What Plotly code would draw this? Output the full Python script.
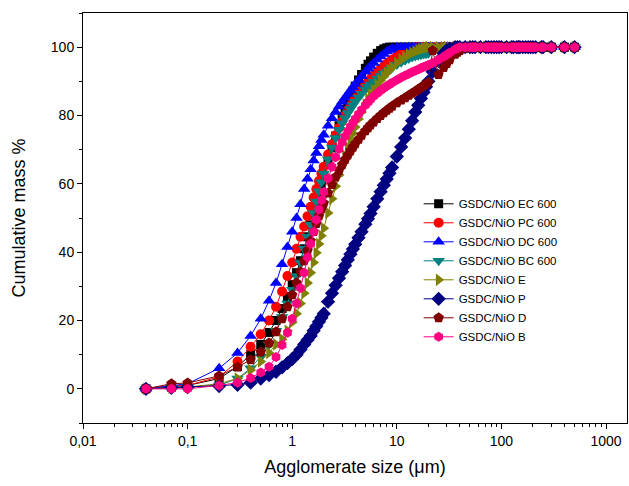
import plotly.graph_objects as go

# Particle size classes (µm)
sizes = [0.04, 0.07, 0.1, 0.2, 0.3, 0.4, 0.5, 0.6, 0.7, 0.8, 0.9, 1.0,
         1.1, 1.2, 1.3, 1.4, 1.5, 1.6, 1.7, 1.8, 1.9, 2.0,
         2.2, 2.4, 2.6, 2.8, 3.0, 3.2, 3.4, 3.6, 3.8, 4.0,
         4.3, 4.6, 5.0, 5.3, 5.6, 6.0, 6.5, 7.0, 7.5, 8.0, 8.5, 9.0,
         10, 11, 12, 13, 14, 15, 16, 17, 18, 19, 20,
         22, 25, 28, 30, 32, 36, 38, 40, 45, 50,
         53, 56, 63, 71, 75, 80, 85, 90, 95, 100,
         112, 125, 130, 140, 145, 150, 160, 170, 180, 190, 200,
         212, 242, 250, 300, 400, 500]

ec600 = [0, 0.5, 1, 3, 6.5, 10, 13, 16.5, 20, 23.5, 27, 30.5,
         34, 37.5, 41, 44.5, 48, 51, 54, 57, 59.5, 62,
         66.5, 70.5, 74, 77, 79.6, 81.8, 83.8, 85.6, 87.2, 88.6,
         90.4, 92, 93.8, 95, 96, 97.1, 98.2, 99, 99.5, 99.8, 100, 100,
         100, 100, 100, 100, 100, 100, 100, 100, 100, 100, 100,
         100, 100, 100, 100, 100, 100, 100, 100, 100, 100,
         100, 100, 100, 100, 100, 100, 100, 100, 100, 100,
         100, 100, 100, 100, 100, 100, 100, 100, 100, 100, 100,
         100, 100, 100, 100, 100, 100]

pc600 = [0, 1, 1, 3.5, 8, 12.3, 16, 20, 24, 28.5, 33, 37,
         41, 44.5, 47.5, 50.5, 53.3, 56, 58.5, 60.8, 63, 65,
         68.6, 71.6, 74.2, 76.4, 78.3, 80, 81.5, 82.8, 84, 85,
         86.4, 87.6, 89, 89.9, 90.7, 91.7, 92.7, 93.6, 94.4, 95.1, 95.7, 96.3,
         97.3, 98.1, 98.7, 99.2, 99.6, 99.9, 100, 100, 100, 100, 100,
         100, 100, 100, 100, 100, 100, 100, 100, 100, 100,
         100, 100, 100, 100, 100, 100, 100, 100, 100, 100,
         100, 100, 100, 100, 100, 100, 100, 100, 100, 100, 100,
         100, 100, 100, 100, 100, 100]

dc600 = [0, 1, 1.5, 6, 10.5, 15.5, 20.5, 25.8, 31, 36.5, 41.5, 46,
         50, 54, 58.5, 61.5, 64.3, 66.8, 69, 71, 72.8, 74.4,
         77, 79.2, 81, 82.6, 84, 85.2, 86.3, 87.3, 88.3, 89.2,
         90.4, 91.5, 92.8, 93.7, 94.5, 95.4, 96.4, 97.3, 98, 98.7, 99.2, 99.6,
         100, 100, 100, 100, 100, 100, 100, 100, 100, 100, 100,
         100, 100, 100, 100, 100, 100, 100, 100, 100, 100,
         100, 100, 100, 100, 100, 100, 100, 100, 100, 100,
         100, 100, 100, 100, 100, 100, 100, 100, 100, 100, 100,
         100, 100, 100, 100, 100, 100]

bc600 = [0, 0.3, 0.5, 1, 3, 6, 9.5, 13, 17, 21, 25, 29,
         33, 37, 41, 44.5, 48, 51.5, 54.8, 57.8, 60.5, 63,
         67.2, 70.6, 73.4, 75.8, 77.7, 79.3, 80.7, 81.9, 83, 84,
         85.3, 86.4, 87.6, 88.4, 89.1, 89.9, 90.8, 91.6, 92.3, 92.9, 93.5, 94,
         94.9, 95.6, 96.2, 96.7, 97.1, 97.4, 97.6, 97.8, 98, 98.1, 98.2,
         100, 100, 100, 100, 100, 100, 100, 100, 100, 100,
         100, 100, 100, 100, 100, 100, 100, 100, 100, 100,
         100, 100, 100, 100, 100, 100, 100, 100, 100, 100, 100,
         100, 100, 100, 100, 100, 100]

e_ = [0, 0.3, 0.5, 1.5, 3, 5.5, 8, 10.5, 13, 14.5, 17, 19.5,
      22, 25, 28, 31, 34, 37, 39.8, 42.4, 44.8, 47,
      51.5, 55.6, 59.3, 62.6, 65.5, 68.2, 70.6, 72.8, 74.8, 76.6,
      79, 81, 83.3, 84.8, 86.1, 87.5, 89, 90.3, 91.4, 92.4, 93.3, 94.1,
      95.4, 96.4, 97.2, 97.9, 98.4, 98.8, 99.2, 99.5, 99.7, 99.9, 100,
      100, 100, 100, 100, 100, 100, 100, 100, 100, 100,
      100, 100, 100, 100, 100, 100, 100, 100, 100, 100,
      100, 100, 100, 100, 100, 100, 100, 100, 100, 100, 100,
      100, 100, 100, 100, 100, 100]

p_ = [0, 0.3, 0.5, 0.8, 1.2, 1.8, 3, 4, 5, 6.3, 7.5, 8.7,
      10, 11.5, 13, 14.3, 15.5, 17, 18.3, 19.6, 20.8, 22,
      25.5, 28, 30.3, 32.4, 34.3, 36.1, 37.8, 39.4, 40.9, 42.3,
      44.2, 46, 48.2, 49.8, 51.3, 53.3, 55.6, 57.7, 59.6, 61.4, 63.1, 64.8,
      68, 70.8, 73.4, 76, 78.5, 81, 83, 85, 86.8, 88.4, 90,
      92.8, 96, 98.2, 99.1, 99.6, 100, 100, 100, 100, 100,
      100, 100, 100, 100, 100, 100, 100, 100, 100, 100,
      100, 100, 100, 100, 100, 100, 100, 100, 100, 100, 100,
      100, 100, 100, 100, 100, 100]

d_ = [0, 1.5, 1.7, 3.8, 6.4, 8.5, 10.8, 13.4, 16.7, 20.5, 24, 27.5,
      31, 34.3, 37.5, 40.5, 43.3, 46, 48.4, 50.6, 52.6, 54.3,
      57.3, 59.8, 62, 63.9, 65.6, 67.1, 68.4, 69.6, 70.7, 71.7,
      73, 74.2, 75.5, 76.4, 77.2, 78.1, 79.1, 80, 80.8, 81.5, 82.1, 82.7,
      83.7, 84.5, 85.2, 85.9, 86.5, 87.1, 87.7, 88.2, 88.7, 89.2, 89.7,
      99, 92, 94, 95.2, 96.3, 97.9, 98.5, 99, 99.7, 100,
      100, 100, 100, 100, 100, 100, 100, 100, 100, 100,
      100, 100, 100, 100, 100, 100, 100, 100, 100, 100, 100,
      100, 100, 100, 100, 100, 100]

b_ = [0, 0, 0, 1, 1.8, 3.2, 4.8, 6.5, 9.3, 12.8, 16.4, 20.5,
      25, 29.5, 34, 38.5, 42.5, 46, 49.5, 52.5, 55.2, 57.6,
      61.6, 65, 67.8, 70.2, 72.2, 73.9, 75.4, 76.7, 77.9, 79,
      80.4, 81.6, 83, 83.9, 84.7, 85.6, 86.5, 87.3, 88, 88.6, 89.1, 89.6,
      90.4, 91.1, 91.7, 92.2, 92.7, 93.1, 93.5, 93.9, 94.2, 94.5, 94.8,
      95.4, 96.3, 97.2, 97.8, 98.4, 99.3, 99.7, 100, 100, 100,
      100, 100, 100, 100, 100, 100, 100, 100, 100, 100,
      100, 100, 100, 100, 100, 100, 100, 100, 100, 100, 100,
      100, 100, 100, 100, 100, 100]

series_names = ["GSDC/NiO EC 600", "GSDC/NiO PC 600", "GSDC/NiO DC 600",
                "GSDC/NiO BC 600", "GSDC/NiO E", "GSDC/NiO P",
                "GSDC/NiO D", "GSDC/NiO B"]
series_values = [ec600, pc600, dc600, bc600, e_, p_, d_, b_]
colors = ["#000000", "#FF0000", "#0000FF", "#008080",
          "#808000", "#000080", "#800000", "#FF0080"]
symbols = ["square", "circle", "triangle-up", "triangle-down",
           "triangle-right", "diamond", "pentagon", "hexagon"]
msizes = [9, 10, 11, 11, 11, 11, 11, 10]

x_tickvals = [0.01, 0.1, 1, 10, 100, 1000]
x_ticktext = ["0,01", "0,1", "1", "10", "100", "1000"]
y_tickvals = [0, 20, 40, 60, 80, 100]

FONT = "Arial, Liberation Sans, sans-serif"

fig = go.Figure()
for name, vals, col, sym, ms in zip(series_names, series_values, colors, symbols, msizes):
    fig.add_trace(go.Scatter(
        x=sizes, y=vals, name=name, mode="lines+markers",
        line=dict(color=col, width=1),
        marker=dict(symbol=sym, size=ms, color=col, line=dict(width=0)),
    ))

fig.update_layout(
    width=629, height=486,
    margin=dict(l=83, r=2, t=13, b=63),
    paper_bgcolor="white", plot_bgcolor="white",
    font=dict(family=FONT, size=14, color="black"),
    showlegend=True,
    legend=dict(x=0.617, y=0.57, xanchor="left", yanchor="top",
                bgcolor="rgba(0,0,0,0)", borderwidth=0,
                font=dict(family=FONT, size=11.5, color="black"),
                tracegroupgap=0),
)

fig.update_xaxes(
    type="log", range=[-2, 3.2],
    tickmode="array", tickvals=x_tickvals, ticktext=x_ticktext,
    ticks="outside", ticklen=5, tickwidth=1, tickcolor="black",
    minor=dict(ticks="outside", ticklen=3, tickwidth=1, tickcolor="black",
               dtick="D1", showgrid=False),
    showline=True, linecolor="black", linewidth=1, mirror=True,
    showgrid=False, zeroline=False, automargin=False,
    tickfont=dict(family=FONT, size=14),
    title=dict(text="Agglomerate size (μm)", font=dict(family=FONT, size=18), standoff=12),
)
fig.update_yaxes(
    range=[-10, 110],
    tickmode="array", tickvals=y_tickvals,
    ticks="outside", ticklen=5, tickwidth=1, tickcolor="black",
    minor=dict(ticks="outside", ticklen=3, tickwidth=1, tickcolor="black",
               dtick=10, showgrid=False),
    showline=True, linecolor="black", linewidth=1, mirror=True,
    showgrid=False, zeroline=False, automargin=False,
    tickfont=dict(family=FONT, size=14),
    title=dict(text="Cumulative mass %", font=dict(family=FONT, size=18), standoff=20),
)

fig.write_html(
    "out.html",
    config={"displayModeBar": False},
    post_script="document.body.style.margin='0';document.body.style.overflow='hidden';",
)
